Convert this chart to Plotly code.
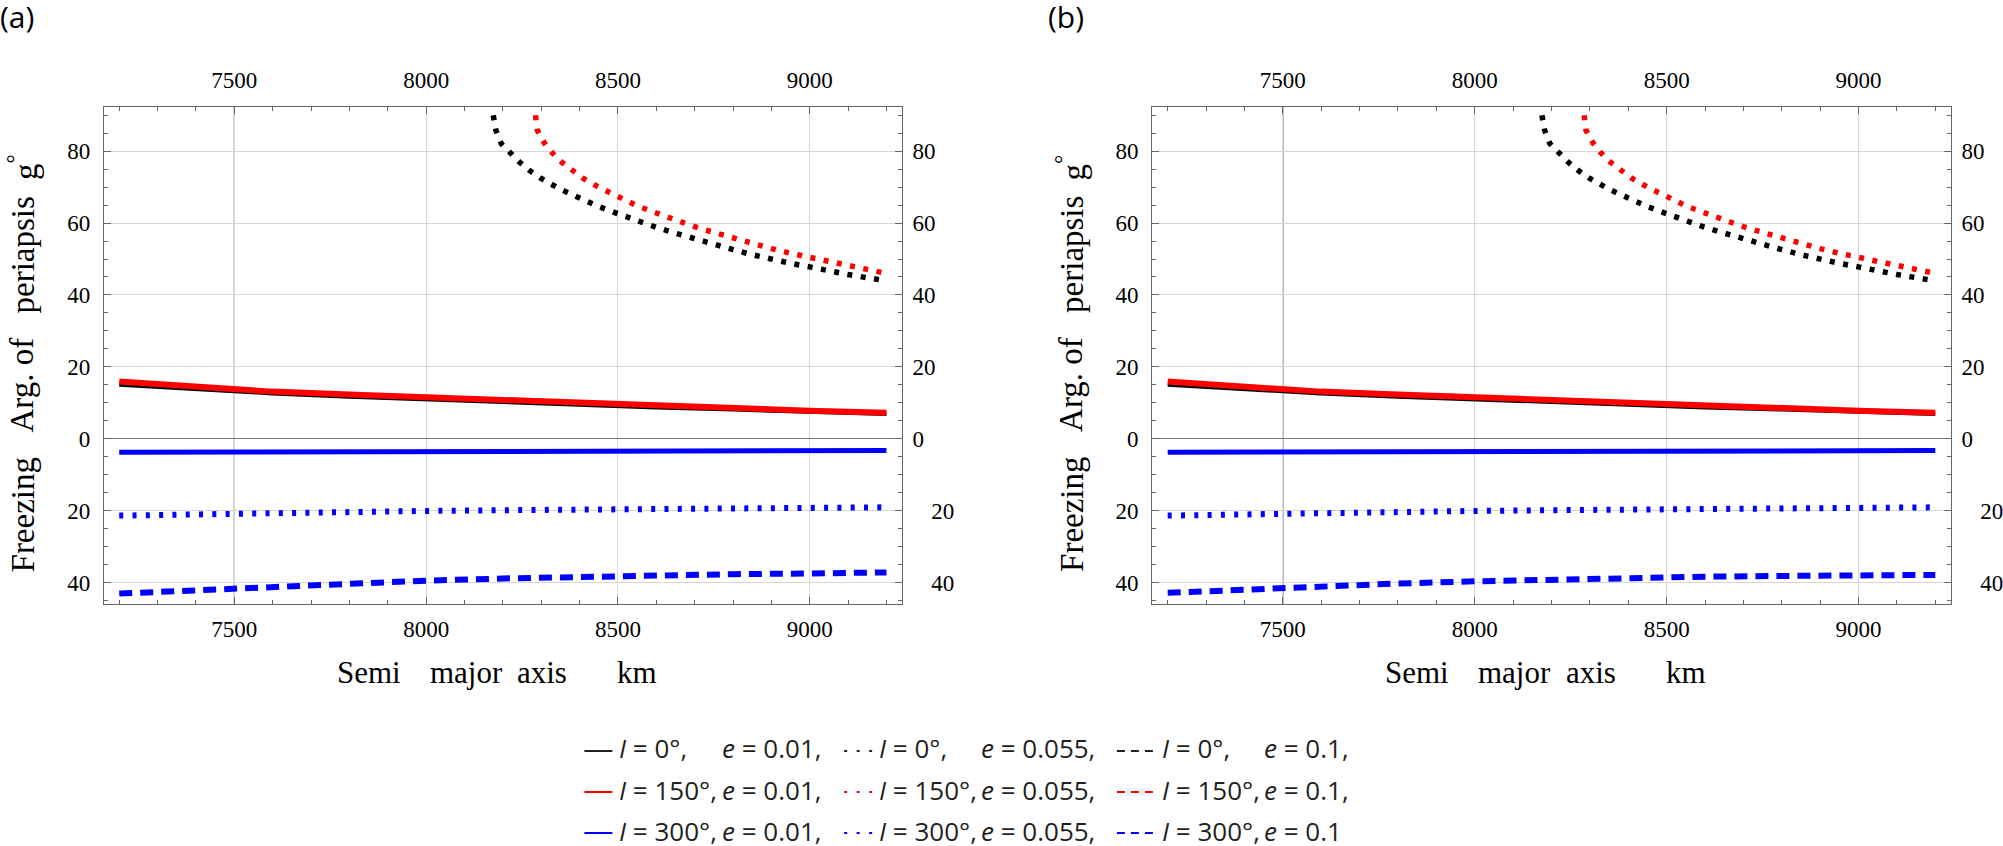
import plotly.graph_objects as go

W, H = 2003, 846

# ---------------- data ----------------
a_solid = [7200, 7400, 7600, 7800, 8000, 8200, 8400, 8600, 8800, 9000, 9200]
g_I0_e001 = [15.0, 13.8, 12.6, 11.7, 10.9, 10.1, 9.4, 8.7, 8.1, 7.4, 6.9]
g_I150_e001 = [15.9, 14.4, 13.1, 12.3, 11.5, 10.7, 9.8, 9.1, 8.4, 7.8, 7.2]
g_I300_e001 = [-3.8, -3.75, -3.7, -3.6, -3.55, -3.5, -3.45, -3.4, -3.35, -3.3, -3.3]
g_I300_e0055 = [-21.4, -21.0, -20.6, -20.3, -20.1, -19.9, -19.7, -19.5, -19.35, -19.2, -19.1]
g_I300_e01_a = [-43.1, -42.1, -41.1, -40.2, -39.5, -38.9, -38.4, -38.0, -37.7, -37.5, -37.2]
g_I300_e01_b = [-42.9, -42.0, -41.0, -40.3, -39.7, -39.2, -38.7, -38.4, -38.2, -38.0, -37.9]

a_I0_e0055 = [8175, 8182, 8196, 8219, 8244, 8270, 8300, 8350, 8400, 8450, 8500, 8550,
              8600, 8650, 8700, 8750, 8800, 8850, 8900, 8950, 9000, 9050, 9100, 9150, 9200]
g_I0_e0055 = [90.0, 85.8, 82.1, 79.4, 76.9, 74.6, 72.4, 69.4, 66.8, 64.6, 62.6, 60.5,
              58.8, 57.2, 55.6, 54.2, 52.6, 51.2, 49.9, 48.8, 47.8, 46.6, 45.7, 44.8, 43.9]

a_I150_e0055 = [8285, 8290, 8308, 8329, 8354, 8382, 8410, 8450, 8500, 8550, 8600, 8650,
                8700, 8750, 8800, 8850, 8900, 8950, 9000, 9050, 9100, 9150, 9200]
g_I150_e0055 = [90.0, 85.8, 82.3, 79.5, 76.9, 74.5, 72.4, 70.0, 67.2, 64.8, 62.8, 60.8,
                59.0, 57.4, 55.8, 54.3, 52.9, 51.6, 50.4, 49.2, 48.1, 47.1, 46.0]

x_tick_vals = [7500, 8000, 8500, 9000]
x_tick_text = ["7500", "8000", "8500", "9000"]
y_tick_vals = [-40, -20, 0, 20, 40, 60, 80]
y_tick_text = ["40", "20", "0", "20", "40", "60", "80"]
_pad = "<span style='color:rgba(0,0,0,0)'>\u2212.</span>"
y_tick_text_right = [_pad + "40", _pad + "20", "0", "20", "40", "60", "80"]

legend_I = ["0", "150", "300"]
legend_e = ["0.01", "0.055", "0.1"]
legend_colors = ["#222222", "#ff0000", "#0000ff"]

X_RANGE = [7160, 9240]
Y_RANGE = [-46.0, 92.3]
AXIS_CROSS_X = 7500

# ---------------- helpers ----------------
def fx(p):
    return p / W

def fy(p):
    return 1 - p / H

SERIF = "Liberation Serif"
SANS = "Open Sans"
FRAME = "#666666"
GRID = "#d6d6d6"
tickfont = dict(family=SERIF, size=23, color="black")

BLACK, RED, BLUE = "#000000", "#ff0000", "#0000ff"

fig = go.Figure()

panels = [
    dict(dom=[fx(104), fx(902.7)], xa="x", ya="y", xs="", ys="", dashed=g_I300_e01_a, off=0.0),
    dict(dom=[fx(1153.5), fx(1952.6)], xa="x2", ya="y2", xs="2", ys="2", dashed=g_I300_e01_b, off=1049.5),
]
Y_DOM = [fy(604), fy(107)]

layout_axes = {}
for i, p in enumerate(panels):
    xa, ya = p["xa"], p["ya"]
    xtop_id = "x" + str(3 + i)
    yright_id = "y" + str(3 + i)
    traces = [
        (a_solid, g_I0_e001, BLACK, 4, "solid"),
        (a_solid, g_I150_e001, RED, 6, "solid"),
        (a_solid, g_I300_e001, BLUE, 5, "solid"),
        (a_I0_e0055, g_I0_e0055, BLACK, 5.5, "5px,8.5px"),
        (a_I150_e0055, g_I150_e0055, RED, 5.5, "5px,8.5px"),
        (a_solid, g_I300_e0055, BLUE, 6, "4px,9.3px"),
        (a_solid, p["dashed"], BLUE, 6, "13px,8px"),
    ]
    for xs, ys, col, w, dash in traces:
        fig.add_trace(go.Scatter(x=xs, y=ys, mode="lines", xaxis=xa, yaxis=ya,
                                 line=dict(color=col, width=w, dash=dash),
                                 showlegend=False, hoverinfo="skip"))
    # empty trace so the mirrored (top / right) label axes are drawn
    fig.add_trace(go.Scatter(x=[], y=[], mode="lines", xaxis=xtop_id, yaxis=yright_id,
                             showlegend=False, hoverinfo="skip"))

    xid = "xaxis" + p["xs"]
    yid = "yaxis" + p["ys"]
    xtop = "xaxis" + str(3 + i)
    yright = "yaxis" + str(3 + i)

    xminor = dict(tickmode="linear", tick0=7000, dtick=100, ticks="inside", ticklen=4,
                  tickcolor=FRAME, tickwidth=1, showgrid=False)
    yminor = dict(tickmode="linear", tick0=0, dtick=5, ticks="inside", ticklen=4,
                  tickcolor=FRAME, tickwidth=1, showgrid=False)
    common_x = dict(domain=p["dom"], range=X_RANGE, tickmode="array", tickvals=x_tick_vals,
                    ticktext=x_tick_text, ticks="inside", ticklen=7, tickcolor=FRAME, tickwidth=1,
                    minor=xminor, showline=True, linecolor=FRAME, linewidth=1.3,
                    zeroline=False, tickfont=tickfont, fixedrange=True)
    common_y = dict(domain=Y_DOM, range=Y_RANGE, tickmode="array", tickvals=y_tick_vals,
                    ticks="inside", ticklen=7, tickcolor=FRAME, tickwidth=1,
                    minor=yminor, showline=True, linecolor=FRAME, linewidth=1.3,
                    tickfont=tickfont, fixedrange=True)
    layout_axes[xid] = dict(common_x, side="bottom", anchor=ya, showgrid=True,
                            gridcolor=GRID, gridwidth=1, ticklabelstandoff=4)
    layout_axes[xtop] = dict(common_x, side="top", anchor=yright_id, overlaying=xa,
                             showgrid=False, ticklabelstandoff=9)
    layout_axes[yid] = dict(common_y, side="left", anchor=xa, ticktext=y_tick_text,
                            showgrid=True, gridcolor=GRID, gridwidth=1,
                            zeroline=True, zerolinecolor="#7a7a7a", zerolinewidth=1.3,
                            ticklabelstandoff=8)
    layout_axes[yright] = dict(common_y, side="right", anchor=xtop_id, overlaying=ya,
                               ticktext=y_tick_text_right, showgrid=False, zeroline=False,
                               ticklabelstandoff=5)

fig.update_layout(**layout_axes)

shapes = []
annotations = []
for i, p in enumerate(panels):
    off = p["off"]
    # darker vertical axis line at the axes origin
    shapes.append(dict(type="line", xref=p["xa"], yref=p["ya"] + " domain",
                       x0=AXIS_CROSS_X, x1=AXIS_CROSS_X, y0=0, y1=1,
                       line=dict(color="#7a7a7a", width=1.3), layer="below"))
    # panel label
    annotations.append(dict(text="(a)" if i == 0 else "(b)", xref="paper", yref="paper",
                            x=fx(-2 + off), y=fy(17), xanchor="left", yanchor="middle",
                            showarrow=False, font=dict(family=SANS, size=30, color="black")))
    # x-axis title pieces
    for word, left in [("Semi", 337), ("major", 430), ("axis", 518), ("km", 618)]:
        annotations.append(dict(text=word, xref="paper", yref="paper", x=fx(left - 2 + off),
                                y=fy(672), xanchor="left", yanchor="middle", showarrow=False,
                                font=dict(family=SERIF, size=31, color="black")))
    # y-axis title pieces (rotated)
    for word, bottom in [("Freezing", 574), ("Arg. of", 434), ("periapsis", 315),
                         ("g<sup>°</sup>", 182)]:
        annotations.append(dict(text=word, xref="paper", yref="paper", x=fx(23 + off),
                                y=fy(bottom), xanchor="center", yanchor="bottom",
                                textangle=-90, showarrow=False,
                                font=dict(family=SERIF, size=33, color="black")))

# legend (3 columns x 3 rows)
col_swatch = [(585, 613), (845, 873), (1118, 1157)]
col_I_x = [620, 880, 1163]
col_e_x = [723, 982, 1265]
col_dash = ["solid", "3px,9.5px", "8px,6px"]
row_swatch_y = [751, 792, 833]
row_text_y = [748, 790, 830.5]
for r, (Ival, col) in enumerate(zip(legend_I, legend_colors)):
    for c, eval_ in enumerate(legend_e):
        x0, x1 = col_swatch[c]
        shapes.append(dict(type="line", xref="paper", yref="paper", x0=fx(x0), x1=fx(x1),
                           y0=fy(row_swatch_y[r]), y1=fy(row_swatch_y[r]),
                           line=dict(color=col, width=2, dash=col_dash[c])))
        annotations.append(dict(text="<i>I</i> = " + Ival + "°,", xref="paper", yref="paper",
                                x=fx(col_I_x[c] - 2), y=fy(row_text_y[r]), xanchor="left",
                                yanchor="middle", showarrow=False,
                                font=dict(family=SANS, size=26, color="#231f20")))
        last = (r == 2 and c == 2)
        annotations.append(dict(text="<i>e</i> = " + eval_ + ("" if last else ","),
                                xref="paper", yref="paper",
                                x=fx(col_e_x[c] - 2), y=fy(row_text_y[r]), xanchor="left",
                                yanchor="middle", showarrow=False,
                                font=dict(family=SANS, size=26, color="#231f20")))

fig.update_layout(width=W, height=H, margin=dict(l=0, r=0, t=0, b=0),
                  paper_bgcolor="white", plot_bgcolor="white",
                  shapes=shapes, annotations=annotations, showlegend=False)

fig.write_html("out.html")
